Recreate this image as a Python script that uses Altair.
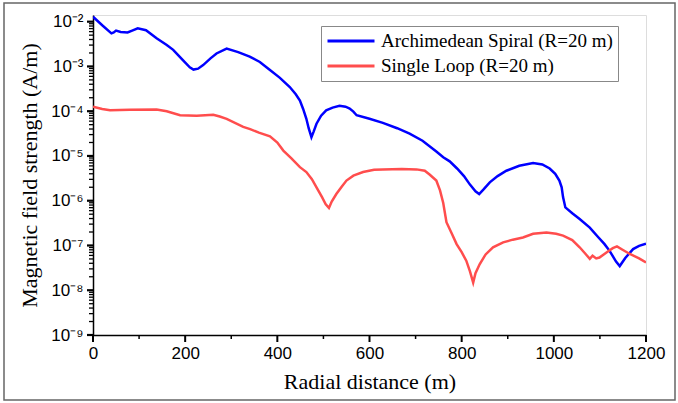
import altair as alt
import pandas as pd

# ---- data (x in m, value as log10 of A/m) ----
spiral_x = [0, 20, 40, 45, 50, 60, 75, 85, 97, 115, 138, 160, 174, 195, 210, 218, 228, 239,
            255, 268, 290, 315, 340, 362, 384, 405, 427, 440, 449, 456, 463, 468, 474, 479,
            485, 495, 506, 520, 535, 548, 557, 565, 572, 600, 629, 660, 687, 715, 745, 760,
            774, 790, 805, 818, 830, 838, 848, 861, 878, 897, 925, 955, 975, 991, 1003, 1012,
            1017, 1020, 1025, 1040, 1056, 1078, 1095, 1110, 1121, 1135, 1143, 1155, 1172,
            1185, 1200]
spiral_log = [-1.89, -2.08, -2.26, -2.24, -2.20, -2.23, -2.24, -2.20, -2.15, -2.19, -2.37,
              -2.52, -2.63, -2.86, -3.02, -3.07, -3.05, -2.97, -2.82, -2.71, -2.60, -2.68,
              -2.78, -2.90, -3.08, -3.25, -3.46, -3.62, -3.76, -3.95, -4.17, -4.38, -4.58,
              -4.45, -4.28, -4.10, -3.98, -3.92, -3.88, -3.90, -3.94, -4.01, -4.09, -4.17,
              -4.26, -4.38, -4.50, -4.66, -4.90, -5.03, -5.12, -5.28, -5.45, -5.64, -5.79,
              -5.85, -5.74, -5.59, -5.45, -5.33, -5.22, -5.16, -5.19, -5.28, -5.40, -5.55,
              -5.70, -5.92, -6.15, -6.28, -6.41, -6.60, -6.80, -6.97, -7.12, -7.36, -7.46,
              -7.28, -7.08, -7.01, -6.96]

loop_x = [0, 20, 37, 80, 138, 160, 189, 225, 261, 275, 290, 326, 341, 360, 384, 400, 413,
          430, 449, 463, 475, 485, 497, 505, 512, 518, 528, 540, 550, 565, 586, 610, 629,
          670, 702, 720, 731, 745, 753, 760, 767, 778, 789, 800, 810, 818, 825, 830, 839,
          852, 868, 890, 911, 933, 955, 984, 1005, 1020, 1040, 1056, 1068, 1078, 1084,
          1092, 1099, 1115, 1128, 1137, 1150, 1165, 1185, 1200]
loop_log = [-3.90, -3.95, -3.98, -3.97, -3.96, -4.00, -4.09, -4.10, -4.08, -4.12, -4.17,
            -4.35, -4.40, -4.48, -4.56, -4.70, -4.88, -5.05, -5.25, -5.36, -5.52, -5.70,
            -5.92, -6.08, -6.16, -6.02, -5.85, -5.68, -5.55, -5.44, -5.36, -5.31, -5.30,
            -5.29, -5.30, -5.33, -5.42, -5.55, -5.77, -6.05, -6.48, -6.72, -6.97, -7.15,
            -7.34, -7.58, -7.83, -7.62, -7.42, -7.20, -7.04, -6.93, -6.87, -6.82, -6.74,
            -6.71, -6.74, -6.78, -6.88, -7.04, -7.18, -7.30, -7.23, -7.29, -7.27, -7.15,
            -7.06, -7.02, -7.10, -7.19, -7.29, -7.38]

series_names = ["Archimedean Spiral (R=20 m)", "Single Loop (R=20 m)"]
series_colors = ["#0000FF", "#FF4D4D"]

# tick positions
x_major_ticks = [0, 200, 400, 600, 800, 1000, 1200]
x_minor_ticks = [100, 300, 500, 700, 900, 1100]
y_decades = list(range(-9, -1))
y_major_ticks = [10.0 ** e for e in y_decades]
y_minor_ticks = [m * 10.0 ** e for e in range(-9, -2) for m in range(2, 10)]

rows = []
for xv, lv in zip(spiral_x, spiral_log):
    rows.append({"x": xv, "H": 10.0 ** lv, "series": series_names[0]})
for xv, lv in zip(loop_x, loop_log):
    rows.append({"x": xv, "H": 10.0 ** lv, "series": series_names[1]})
df = pd.DataFrame(rows)

sup = {"-": "\u207b", "0": "\u2070", "1": "\u00b9", "2": "\u00b2", "3": "\u00b3",
       "4": "\u2074", "5": "\u2075", "6": "\u2076", "7": "\u2077", "8": "\u2078", "9": "\u2079"}
def supstr(n):
    return "".join(sup[c] for c in str(n))

expo = "round(log(datum.value)/LN10)"
lab = "''"
for e in y_decades:
    lab = f"({expo} == {e} ? '10{supstr(e)}' : {lab})"
y_label_expr = lab

axis_common = dict(grid=False, labelColor="#000", labelFont="Liberation Sans",
                   labelFontSize=17, ticks=False,
                   domainColor="#000", domainWidth=1.5,
                   titleFont="Liberation Serif", titleFontSize=22,
                   titleFontWeight="normal", titleColor="#000", titleBaseline="alphabetic")

x_enc = alt.X("x:Q",
              scale=alt.Scale(domain=[0, 1200], nice=False, zero=False),
              axis=alt.Axis(values=x_major_ticks, format="d",
                            title="Radial distance (m)", labelPadding=10, labelFlush=False,
                            titleY=53, **axis_common))
y_enc = alt.Y("H:Q",
              scale=alt.Scale(type="log", domain=[1e-9, 0.0141], nice=False),
              axis=alt.Axis(values=y_major_ticks, labelExpr=y_label_expr,
                            title="Magnetic field strength (A/m)", labelPadding=10,
                            titleX=-57, **axis_common))

lines = alt.Chart(df).mark_line(strokeWidth=2.5, clip=True).encode(
    x=x_enc,
    y=y_enc,
    color=alt.Color("series:N",
                    scale=alt.Scale(domain=series_names, range=series_colors),
                    legend=alt.Legend(orient="none", legendX=228, legendY=11, title=None,
                                      symbolType="stroke", symbolSize=2209,
                                      symbolStrokeWidth=3, clipHeight=20, rowPadding=5,
                                      labelFont="Liberation Serif", labelFontSize=19,
                                      labelColor="#000", labelOffset=5, padding=5,
                                      labelLimit=400,
                                      strokeColor="#888", fillColor="#fff")),
    order=alt.Order("x:Q"),
)

# axis ticks drawn through the shared scales
xt_major = alt.Chart(pd.DataFrame({"x": x_major_ticks})).mark_rule(
    color="black", strokeWidth=2, clip=False
).encode(x=alt.X("x:Q"), y=alt.value(320), y2=alt.value(327))
xt_minor = alt.Chart(pd.DataFrame({"x": x_minor_ticks})).mark_rule(
    color="black", strokeWidth=1.5, clip=False
).encode(x=alt.X("x:Q"), y=alt.value(320), y2=alt.value(324))
yt_major = alt.Chart(pd.DataFrame({"H": y_major_ticks})).mark_rule(
    color="black", strokeWidth=2.2, clip=False
).encode(y=alt.Y("H:Q"), x=alt.value(-6), x2=alt.value(0))
yt_minor = alt.Chart(pd.DataFrame({"H": y_minor_ticks})).mark_rule(
    color="black", strokeWidth=1.3, clip=False
).encode(y=alt.Y("H:Q"), x=alt.value(-4), x2=alt.value(0))

frame = alt.Chart(pd.DataFrame({"a": [0]})).mark_rect(
    filled=False, stroke="#666", strokeWidth=1.5, clip=False
).encode(x=alt.value(-89), x2=alt.value(582), y=alt.value(-12), y2=alt.value(385))

chart = alt.layer(frame, lines, xt_major, xt_minor, yt_major, yt_minor).properties(
    width=553, height=320,
    autosize=alt.AutoSizeParams(type="none"),
    padding={"left": 93, "top": 15, "right": 32, "bottom": 68},
).configure_view(stroke="#333", strokeWidth=1.2).configure(background="white")

chart.save("out.html", embed_options={"renderer": "svg", "actions": False})
